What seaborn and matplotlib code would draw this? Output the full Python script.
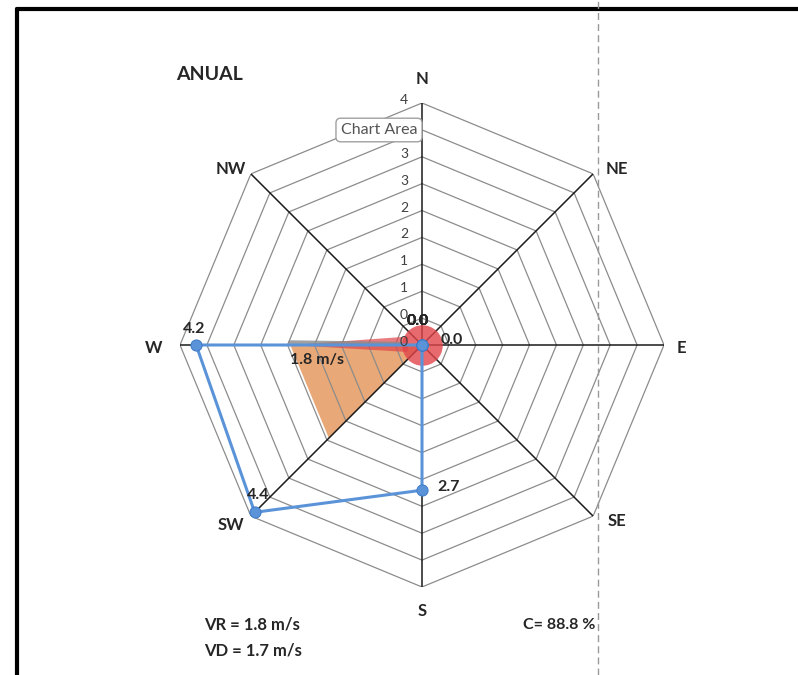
import numpy as np
import seaborn as sns
import matplotlib.pyplot as plt
from matplotlib.lines import Line2D

# data
directions = ['N', 'NE', 'E', 'SE', 'S', 'SW', 'W', 'NW']
speed = [0.0, 0.0, 0.0, 0.0, 2.7, 4.4, 4.2, 0.0]
area = [0.0, 0.0, 0.0, 0.0, 0.0, 2.45, 2.45, 0.0]
rings = [0.5, 1.0, 1.5, 2.0, 2.5, 3.0, 3.5, 4.0, 4.5]
ring_labels = ['0', '0', '1', '1', '2', '2', '3', '3', '4', '4']
vr_dir, vr_len = 'W', 2.45
title = 'ANUAL'
vr_txt = 'VR = 1.8 m/s'
vd_txt = 'VD = 1.7 m/s'
c_txt = 'C= 88.8 %'

sns.set_style('white')
plt.rcParams['font.family'] = ['Lato', 'DejaVu Sans']

W, H = 798, 675
fig = plt.figure(figsize=(W / 100, H / 100), dpi=100)
cx, cy, R = 422, 345, 242
ax = fig.add_axes([(cx - R) / W, 1 - (cy + R) / H, 2 * R / W, 2 * R / H], projection='polar')
ax.set_theta_zero_location('N')
ax.set_theta_direction(-1)
ax.set_ylim(0, rings[-1])
ax.grid(False)
ax.set_xticks([])
ax.set_yticks([])
ax.spines['polar'].set_visible(False)
ax.patch.set_alpha(0)

theta = np.deg2rad(np.arange(len(directions)) * 45)
th_c = np.append(theta, theta[0])

# orange area
ax.fill(th_c, np.append(area, area[0]), color='#E9A877', zorder=1, lw=0)

# octagon grid
for r in rings:
    ax.plot(th_c, [r] * len(th_c), color='#8c8c8c', lw=0.9, zorder=2)
for t in theta:
    ax.plot([t, t], [0, rings[-1]], color='#1a1a1a', lw=1.1, zorder=3)

# red resultant arrow
t0 = theta[directions.index(vr_dir)]
ax.fill([t0, t0 + 0.55, t0 - 0.45], [vr_len, 0.3, 0.3], color='#E0454A', alpha=0.7, lw=0, zorder=4)
ax.plot([t0 + 0.02, t0 + 0.05], [vr_len, 0.4], color='#8a8a8a', lw=3, alpha=0.8, zorder=4)
ax.scatter([0], [0], s=850, color='#E0454A', alpha=0.8, lw=0, zorder=4)

# blue series
sns.lineplot(x=th_c, y=np.append(speed, speed[0]), sort=False, ax=ax, color='#5B93D8',
             lw=2.2, marker='o', markersize=8, markeredgecolor='#3F7CC8', zorder=6)

# ring tick labels
for r, lab in zip([0] + rings, ring_labels):
    ax.annotate(lab, (0, r), xytext=(-14, 3), textcoords='offset pixels', ha='right',
                va='center', fontsize=10, color='#404040', zorder=7)

# direction labels
offs = {'N': (0, 24), 'NE': (24, 5), 'E': (17, -3), 'SE': (24, -5),
        'S': (0, -24), 'SW': (-20, -9), 'W': (-26, -3), 'NW': (-20, 5)}
for t, name in zip(theta, directions):
    dx, dy = offs[name]
    ax.annotate(name, (t, rings[-1]), xytext=(dx, dy), textcoords='offset pixels',
                ha='center', va='center', fontsize=12, fontweight='bold', zorder=7)

# data labels
for t, v, name in zip(theta, speed, directions):
    if v > 0:
        off = {'S': (27, 3), 'SW': (3, 17), 'W': (-2, 16)}[name]
    elif name == 'E':
        off = (30, 5)
    else:
        off = (-4, 24)
    ax.annotate(f'{v:.1f}', (t, v), xytext=off, textcoords='offset pixels', ha='center',
                va='center', fontsize=11.5, fontweight='bold', zorder=8)
ax.annotate(vr_txt[5:], (t0, 1.95), xytext=(0, -15), textcoords='offset pixels', ha='center',
            va='center', fontsize=11.5, fontweight='bold', zorder=8)

# texts
fig.text(209 / W, 1 - 75 / H, title, ha='center', va='center', fontsize=14, fontweight='bold')
fig.text(204 / W, 1 - 625 / H, vr_txt, ha='left', va='center', fontsize=12, fontweight='bold')
fig.text(204 / W, 1 - 650 / H, vd_txt, ha='left', va='center', fontsize=12, fontweight='bold')
fig.text(523 / W, 1 - 625 / H, c_txt, ha='left', va='center', fontsize=11.5, fontweight='bold')
fig.text(379 / W, 1 - 130 / H, 'Chart Area', ha='center', va='center', fontsize=11.5,
         color='#555555', zorder=20,
         bbox=dict(boxstyle='round,pad=0.3', fc='white', ec='#a0a0a0', lw=1))

# frame and guide
fig.add_artist(Line2D([17 / W, 1], [1 - 9 / H, 1 - 9 / H], color='black', lw=3))
fig.add_artist(Line2D([17 / W, 17 / W], [0, 1 - 9 / H], color='black', lw=3))
fig.add_artist(Line2D([598 / W, 598 / W], [0, 1], color='#999999', lw=1, ls=(0, (5, 3))))

fig.savefig('out.png', dpi=100)
